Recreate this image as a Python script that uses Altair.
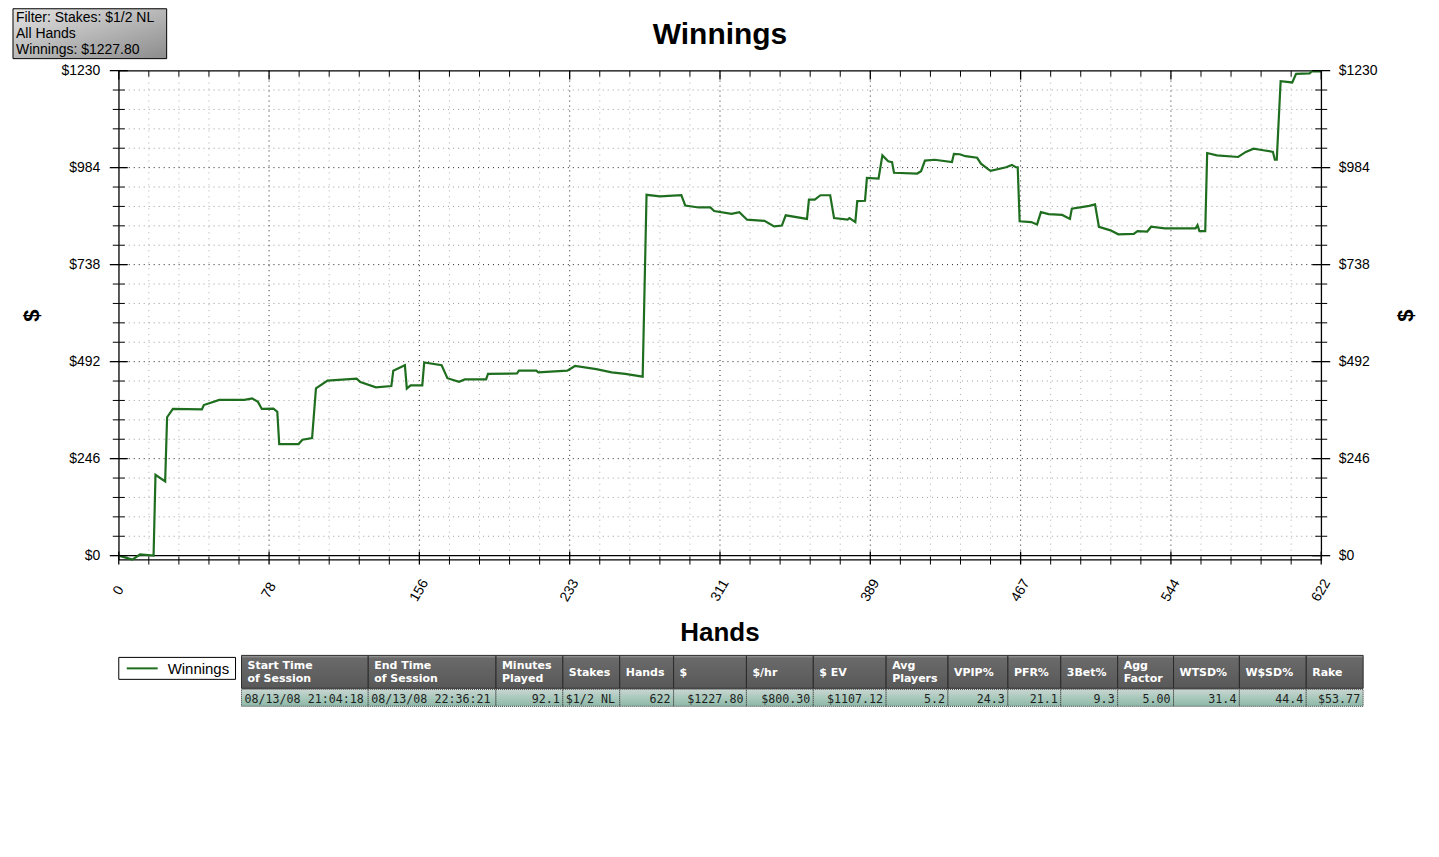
import altair as alt
import pandas as pd

# ---------------- data ----------------
hands = [0, 7, 11, 18, 19, 24, 25, 28, 43, 44, 52, 65, 69, 72, 74, 80, 82, 83, 93, 95,
         100, 102, 108, 123, 125, 133, 141, 142, 148, 149, 151, 157, 158, 167, 170, 176,
         179, 190, 191, 206, 207, 216, 217, 232, 236, 247, 255, 262, 271, 273, 280, 291,
         293, 300, 306, 308, 317, 321, 325, 334, 339, 343, 345, 356, 357, 360, 363, 368,
         370, 377, 378, 381, 382, 386, 387, 393, 395, 398, 400, 401, 413, 415, 417, 422,
         431, 432, 435, 438, 444, 446, 450, 451, 459, 462, 464, 465, 466, 472, 475, 477,
         481, 488, 492, 493, 502, 505, 507, 513, 517, 525, 527, 532, 534, 541, 557, 558,
         559, 562, 563, 568, 579, 583, 587, 592, 597, 598, 599, 601, 607, 609, 616, 617, 622]
winnings = [0, -10, 3, 0, 205, 188, 351, 372, 371, 382, 395, 395, 399, 390, 372, 373, 365, 283, 283, 294,
            298, 424, 444, 449, 440, 427, 430, 469, 483, 424, 432, 432, 490, 483, 450, 441,
            447, 447, 461, 462, 469, 469, 465, 469, 481, 473, 465, 461, 454, 915, 911, 914,
            888, 883, 883, 874, 867, 871, 852, 849, 835, 837, 863, 854, 903, 903, 914, 914,
            856, 852, 856, 846, 899, 900, 958, 956, 1015, 1000, 998, 971, 969, 975, 1002, 1004,
            998, 1019, 1018, 1013, 1009, 994, 979, 976, 985, 991, 985, 985, 848, 846, 840, 871,
            866, 864, 854, 880, 887, 891, 834, 825, 815, 816, 823, 822, 834, 830, 830, 838,
            823, 823, 1021, 1015, 1011, 1024, 1032, 1028, 1024, 1004, 1004, 1203, 1200, 1222, 1223, 1227.8, 1227.8]

x_tick_values = [0, 77.75, 155.5, 233.25, 311, 388.75, 466.5, 544.25, 622]
x_tick_labels = ["0", "78", "156", "233", "311", "389", "467", "544", "622"]
y_tick_values = [0, 246, 492, 738, 984, 1230]
x_minor_count = 40
y_minor_count = 25

chart_title = "Winnings"
x_title = "Hands"
y_title = "$"
legend_label = "Winnings"
filter_lines = ["Filter: Stakes: $1/2 NL", "All Hands", "Winnings: $1227.80"]

table_headers = ["Start Time\nof Session", "End Time\nof Session", "Minutes\nPlayed", "Stakes",
                 "Hands", "$", "$/hr", "$ EV", "Avg\nPlayers", "VPIP%", "PFR%", "3Bet%",
                 "Agg\nFactor", "WTSD%", "W$SD%", "Rake"]
table_values = ["08/13/08 21:04:18", "08/13/08 22:36:21", "92.1", "$1/2 NL", "622", "$1227.80",
                "$800.30", "$1107.12", "5.2", "24.3", "21.1", "9.3", "5.00", "31.4", "44.4", "$53.77"]
table_value_align = ["left", "left", "right", "left", "right", "right", "right", "right",
                     "right", "right", "right", "right", "right", "right", "right", "right"]

# ---------------- layout ----------------
W, H = 1205, 490
X_DOM = [0, 622]
Y_DOM = [-10, 1230]
FONT = "Liberation Sans"
GREEN = "#1f6e1f"
col_edges = [123, 250, 378, 445, 502, 556, 629, 696, 769, 831, 891, 944, 1001, 1057, 1123, 1190, 1247]
HDR_Y0, HDR_Y1, ROW_Y0, ROW_Y1 = 586, 619, 620, 637


def xs():
    return alt.Scale(domain=X_DOM, nice=False, zero=False)


def ys():
    return alt.Scale(domain=Y_DOM, nice=False, zero=False)


x_minor = [X_DOM[1] * i / x_minor_count for i in range(x_minor_count + 1)]
y_minor = [Y_DOM[1] * i / y_minor_count for i in range(y_minor_count + 1)]
x_minor_only = [v for i, v in enumerate(x_minor) if i % 5]
y_minor_only = [v for i, v in enumerate(y_minor) if i % 5]


def hrules(vals, x0, x1, **kw):
    return alt.Chart(pd.DataFrame({"v": vals})).mark_rule(**kw).encode(
        y=alt.Y("v:Q", scale=ys(), axis=None), x=alt.value(x0), x2=alt.value(x1))


def vrules(vals, y0, y1, **kw):
    return alt.Chart(pd.DataFrame({"v": vals})).mark_rule(**kw).encode(
        x=alt.X("v:Q", scale=xs(), axis=None), y=alt.value(y0), y2=alt.value(y1))


# grids
grid_minor_h = hrules(y_minor_only, 0, W, color="#9a9a9a", strokeDash=[1, 4], strokeWidth=1)
grid_minor_v = vrules(x_minor_only, 0, H, color="#9a9a9a", strokeDash=[1, 5], strokeWidth=1, opacity=0.8)
grid_major_h = hrules(y_tick_values[1:-1], 0, W, color="#222222", strokeDash=[1, 4], strokeWidth=1)
grid_major_v = vrules(x_tick_values[1:-1], 0, H, color="#222222", strokeDash=[1, 4], strokeWidth=1)
zero_line = hrules([0], 0, W, color="black", strokeWidth=1.3)

# the winnings line with left labels
line = alt.Chart(pd.DataFrame({"hand": hands, "win": winnings})).mark_line(
    color=GREEN, strokeWidth=2.2).encode(
    x=alt.X("hand:Q", scale=xs(), axis=None),
    y=alt.Y("win:Q", scale=ys(), axis=alt.Axis(
        values=y_tick_values, labelExpr="'$' + datum.value", ticks=False, domain=False,
        grid=False, labelPadding=19, labelFlush=False, labelOverlap=False, labelFont=FONT,
        labelFontSize=14, labelColor="black", title=y_title, titleX=-87, titleY=H / 2,
        titleAngle=270, titleAlign="center", titleBaseline="middle", titleFont=FONT,
        titleFontSize=22, titleFontWeight="bold", titleColor="black")))

# x tick labels (rotated)
x_labels = alt.Chart(pd.DataFrame({"v": x_tick_values, "t": x_tick_labels})).mark_text(
    font=FONT, fontSize=14, color="black", angle=300, align="center", baseline="middle").encode(
    x=alt.X("v:Q", scale=xs(), axis=None), y=alt.value(H + 31), text="t:N")

# ticks crossing the frame
left_major = hrules(y_tick_values, -9, 9, color="black", strokeWidth=1.3)
left_minor = hrules(y_minor_only, -6, 6, color="black", strokeWidth=1)
right_major = alt.Chart(pd.DataFrame({"v": y_tick_values})).mark_rule(
    color="black", strokeWidth=1.3).encode(
    y=alt.Y("v:Q", scale=ys(), axis=alt.Axis(
        orient="right", values=y_tick_values, labelExpr="'$' + datum.value", ticks=False,
        domain=False, grid=False, labelPadding=17, labelFlush=False, labelOverlap=False,
        labelFont=FONT, labelFontSize=14, labelColor="black", title=y_title, titleX=84,
        titleY=H / 2, titleAngle=270, titleAlign="center", titleBaseline="middle",
        titleFont=FONT, titleFontSize=22, titleFontWeight="bold", titleColor="black")),
    x=alt.value(W - 9), x2=alt.value(W + 9))
right_minor = hrules(y_minor_only, W - 6, W + 6, color="black", strokeWidth=1)
top_major = vrules(x_tick_values, 0, 9, color="black", strokeWidth=1.3)
top_minor = vrules(x_minor_only, 0, 6, color="black", strokeWidth=1)
bot_major = vrules(x_tick_values, H - 8, H + 5, color="black", strokeWidth=1.3)
bot_minor = vrules(x_minor_only, H - 3, H + 5, color="black", strokeWidth=1)

# titles
title_txt = alt.Chart(pd.DataFrame({"t": [chart_title]})).mark_text(
    font=FONT, fontSize=30, fontWeight="bold", color="black", align="center",
    baseline="alphabetic").encode(text="t:N", x=alt.value(W / 2), y=alt.value(-27))
xtitle_txt = alt.Chart(pd.DataFrame({"t": [x_title]})).mark_text(
    font=FONT, fontSize=26, fontWeight="bold", color="black", align="center",
    baseline="alphabetic").encode(text="t:N", x=alt.value(W / 2), y=alt.value(572))

# filter box (top-left)
box = alt.Chart(pd.DataFrame({"x0": [-106], "x1": [48], "y0": [-62], "y1": [-12]})).mark_rect(
    fill={"gradient": "linear", "x1": 0, "y1": 0, "x2": 1, "y2": 1,
          "stops": [{"offset": 0, "color": "#e4e4e4"}, {"offset": 1, "color": "#8c8c8c"}]},
    stroke="black", strokeWidth=1).encode(
    x=alt.X("x0:Q", scale=None, axis=None), x2="x1:Q",
    y=alt.Y("y0:Q", scale=None, axis=None), y2="y1:Q")
box_txt = alt.Chart(pd.DataFrame({"t": filter_lines, "x": [-103] * 3, "y": [-49, -33, -17]})).mark_text(
    font=FONT, fontSize=14, color="black", align="left", baseline="alphabetic").encode(
    text="t:N", x=alt.X("x:Q", scale=None, axis=None), y=alt.Y("y:Q", scale=None, axis=None))

# legend
leg_box = alt.Chart(pd.DataFrame({"x0": [0], "x1": [117], "y0": [588], "y1": [610]})).mark_rect(
    fill="white", stroke="black", strokeWidth=1).encode(
    x=alt.X("x0:Q", scale=None, axis=None), x2="x1:Q",
    y=alt.Y("y0:Q", scale=None, axis=None), y2="y1:Q")
leg_line = alt.Chart(pd.DataFrame({"t": [legend_label]})).mark_rule(
    color=GREEN, strokeWidth=2).encode(x=alt.value(8), x2=alt.value(39), y=alt.value(599))
leg_txt = alt.Chart(pd.DataFrame({"t": [legend_label]})).mark_text(
    font=FONT, fontSize=15, color="black", align="left", baseline="alphabetic").encode(
    text="t:N", x=alt.value(49), y=alt.value(605))

# statistics table
n = len(table_headers)
hdr_df = pd.DataFrame({
    "x0": col_edges[:-1], "x1": col_edges[1:], "y0": [HDR_Y0] * n, "y1": [HDR_Y1] * n,
    "label": table_headers,
    "tx": [c + 6 for c in col_edges[:-1]],
    "ty": [600 if "\n" in h else 607 for h in table_headers]})
row_df = pd.DataFrame({
    "x0": col_edges[:-1], "x1": col_edges[1:], "y0": [ROW_Y0] * n, "y1": [ROW_Y1] * n,
    "label": table_values, "align": table_value_align,
    "tx": [(col_edges[i] + 3) if table_value_align[i] == "left" else (col_edges[i + 1] - 3)
           for i in range(n)],
    "ty": [634] * n})


def cell_rects(df, fill, stroke, dash=None):
    kw = {"fill": fill, "stroke": stroke, "strokeWidth": 1}
    if dash:
        kw["strokeDash"] = dash
    return alt.Chart(df).mark_rect(**kw).encode(
        x=alt.X("x0:Q", scale=None, axis=None), x2="x1:Q",
        y=alt.Y("y0:Q", scale=None, axis=None), y2="y1:Q")


hdr_rects = cell_rects(hdr_df, {"gradient": "linear", "x1": 0, "y1": 0, "x2": 0, "y2": 1,
                                "stops": [{"offset": 0, "color": "#a8a8a8"},
                                          {"offset": 0.08, "color": "#6a6a6a"},
                                          {"offset": 1, "color": "#585858"}]}, "#2a2a2a")
row_rects = cell_rects(row_df, {"gradient": "linear", "x1": 0, "y1": 0, "x2": 0, "y2": 1,
                                "stops": [{"offset": 0, "color": "#c9d6d1"},
                                          {"offset": 0.55, "color": "#a6c7ba"},
                                          {"offset": 1, "color": "#8db7a7"}]}, "#333333", [1, 1])
hdr_txt = alt.Chart(hdr_df).mark_text(
    font="DejaVu Sans", fontSize=11, fontWeight="bold", color="white", align="left",
    baseline="alphabetic", lineBreak="\n", lineHeight=13).encode(
    text="label:N", x=alt.X("tx:Q", scale=None, axis=None), y=alt.Y("ty:Q", scale=None, axis=None))


def row_text(align):
    return alt.Chart(row_df[row_df["align"] == align]).mark_text(
        font="DejaVu Sans Mono", fontSize=11.7, color="#1e1e1e", align=align,
        baseline="alphabetic").encode(
        text="label:N", x=alt.X("tx:Q", scale=None, axis=None), y=alt.Y("ty:Q", scale=None, axis=None))


chart = alt.layer(
    grid_minor_h, grid_minor_v, grid_major_h, grid_major_v, zero_line, line, x_labels,
    left_major, left_minor, right_major, right_minor, top_major, top_minor, bot_major, bot_minor,
    title_txt, xtitle_txt, box, box_txt, leg_box, leg_line, leg_txt,
    hdr_rects, row_rects, hdr_txt, row_text("left"), row_text("right")
).resolve_scale(y="independent").properties(
    width=W, height=H,
    padding={"left": 111, "top": 62, "right": 110, "bottom": 170},
    autosize=alt.AutoSizeParams(type="none"),
    background="white"
).configure_view(stroke="black", strokeWidth=1.3)

chart.save("out.html", embed_options={"renderer": "svg", "actions": False})
